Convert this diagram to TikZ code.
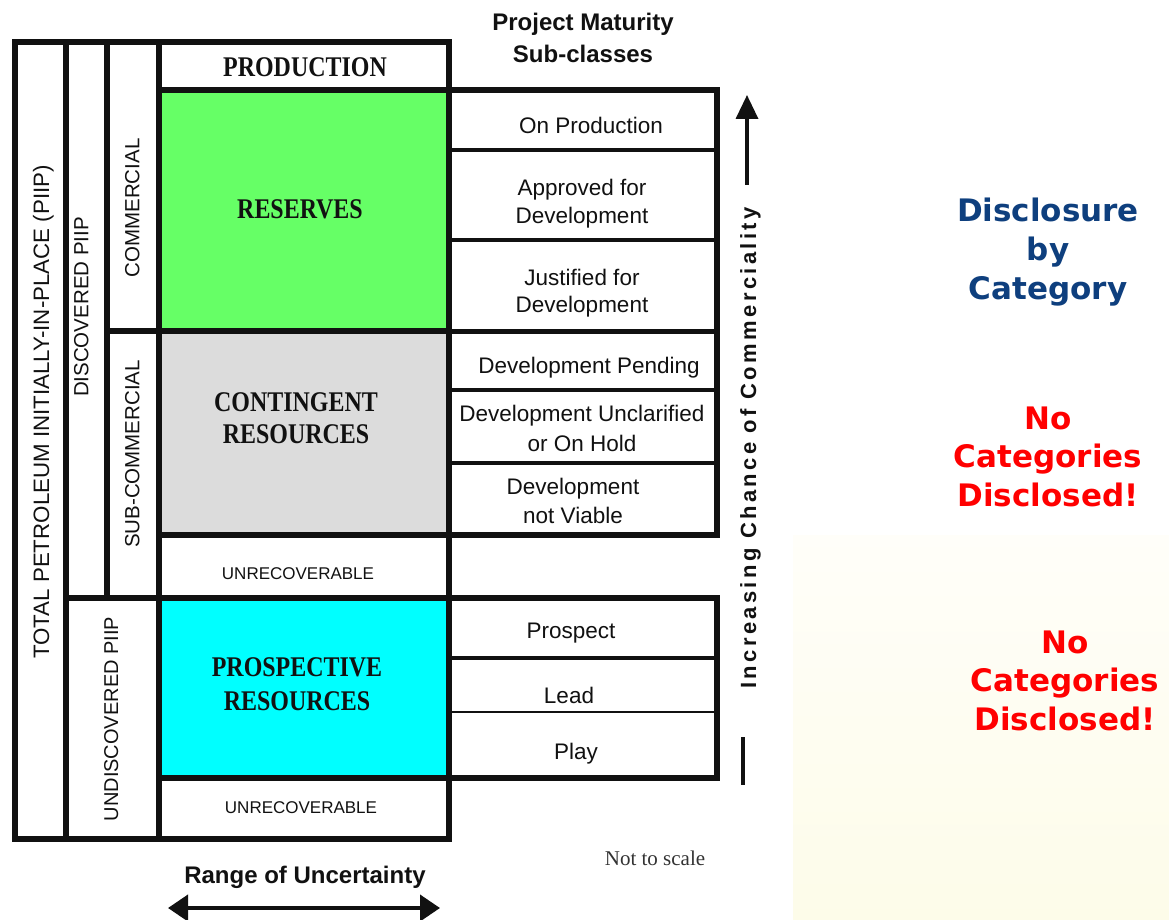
\documentclass[tikz,border=0pt]{standalone}
\usepackage{fontspec}
\setmainfont{Liberation Sans}
\newfontfamily\cserif[FakeStretch=0.84]{Liberation Serif}
\newfontfamily\tserif{Liberation Serif}
\newfontfamily\verd{DejaVu Sans}
\newfontfamily\spacedsans[LetterSpace=15.3]{Liberation Sans}
\usetikzlibrary{arrows.meta}
\definecolor{resgreen}{HTML}{66FF66}
\definecolor{congray}{HTML}{DCDCDC}
\definecolor{procyan}{HTML}{00FFFF}
\definecolor{discblue}{HTML}{0E3F7E}
\definecolor{panelmid}{HTML}{FFFEF9}
\definecolor{panelbot}{HTML}{FDFCE9}
\definecolor{ink}{HTML}{111111}
\newcommand\fsz[2]{\fontsize{#1}{#2}\selectfont}
\begin{document}
\begin{tikzpicture}[x=1pt,y=-1pt,
  thickline/.style={line width=6pt,draw=ink},
  midline/.style={line width=4pt,draw=ink},
  thinline/.style={line width=2.5pt,draw=ink},
  base/.style={inner sep=0pt,anchor=base,align=center,text=ink},
  serifbig/.style={base,font=\cserif\bfseries\fsz{28.5}{32}},
  cell/.style={base,font=\fsz{22.5}{29}},
  vlabel/.style={base,font=\fsz{20.5}{24},rotate=90},
  unrec/.style={base,font=\fsz{17}{20}},
  headtxt/.style={base,font=\bfseries\fsz{24}{32}},
  bluetxt/.style={base,font=\verd\bfseries\fsz{31}{39},text=discblue},
  redtxt/.style={base,font=\verd\bfseries\fsz{31}{38.5},text=red},
  bigarrow/.style={line width=3.5pt,draw=ink,-{Triangle[width=22pt,length=24pt]}},
  dblarrow/.style={line width=4pt,draw=ink,{Triangle[width=26pt,length=20pt]}-{Triangle[width=26pt,length=20pt]}}
]
\useasboundingbox (0,0) rectangle (1169,920);
\fill[white] (0,0) rectangle (1169,920);
% right background panel
\shade[top color=panelmid,bottom color=panelbot] (793,535) rectangle (1169,920);

% fills
\fill[resgreen] (158.5,90.5) rectangle (449,331);
\fill[congray] (158.5,331) rectangle (449,535);
\fill[procyan] (158.5,598) rectangle (449,777.5);

% grid
\draw[thickline] (15,42) rectangle (449,838.5);
\draw[thickline] (66,42) -- (66,838.5);
\draw[thickline] (106.5,42) -- (106.5,598);
\draw[thickline] (158.5,42) -- (158.5,838.5);
\draw[thickline] (158.5,90.5) -- (449,90.5);
\draw[thickline] (106.5,331) -- (449,331);
\draw[thickline] (158.5,535) -- (449,535);
\draw[thickline] (66,598) -- (449,598);
\draw[thickline] (158.5,777.5) -- (449,777.5);

\draw[thickline] (449,90.5) rectangle (716.5,535);
\draw[midline] (449,150) -- (716.5,150);
\draw[midline] (449,240) -- (716.5,240);
\draw[line width=5pt,draw=ink] (449,331) -- (716.5,331);
\draw[midline] (449,390) -- (716.5,390);
\draw[midline] (449,463) -- (716.5,463);
\draw[thickline] (449,598) rectangle (716.5,777.5);
\draw[midline] (449,658) -- (716.5,658);
\draw[thinline] (449,712) -- (716.5,712);

% main labels (placed by baseline of last line)
\node[serifbig] (production) at (305,76.4) {PRODUCTION};
\node[serifbig] (reserves) at (300,218.4) {RESERVES};
\node[serifbig] (contingent) at (296,443.4) {CONTINGENT\\RESOURCES};
\node[serifbig,font=\cserif\bfseries\fsz{28.5}{34}] (prospective) at (297,710.4) {PROSPECTIVE\\RESOURCES};
\node[unrec] (unrecA) at (298,579) {UNRECOVERABLE};
\node[unrec] (unrecB) at (301,813) {UNRECOVERABLE};

% vertical labels
\node[vlabel,font=\fsz{22.3}{26}] (total) at (49,412) {TOTAL PETROLEUM INITIALLY-IN-PLACE (PIIP)};
\node[vlabel] (disc) at (88.3,307) {DISCOVERED PIIP};
\node[vlabel] (comm) at (139.3,208) {COMMERCIAL};
\node[vlabel] (subcomm) at (139.3,454) {SUB-COMMERCIAL};
\node[vlabel,font=\fsz{20}{24}] (undisc) at (118.2,719) {UNDISCOVERED PIIP};

% sub-classes
\node[headtxt] (title) at (583,62.6) {Project Maturity\\Sub-classes};
\node[cell] (onprod) at (591,134) {On Production};
\node[cell,font=\fsz{22.5}{28}] (approved) at (582,223) {Approved for\\Development};
\node[cell,font=\fsz{22.5}{27}] (justified) at (582,312) {Justified for\\Development};
\node[cell] (pending) at (589,373) {Development Pending};
\node[cell,font=\fsz{22.5}{30}] (unclar) at (582,451) {Development Unclarified\\or On Hold};
\node[cell] (notviable) at (573,523) {Development\\not Viable};
\node[cell] (prospect) at (571,638) {Prospect};
\node[cell] (lead) at (569,703) {Lead};
\node[cell] (play) at (576,759) {Play};

% commerciality arrow
\coordinate (upA) at (747,185);
\coordinate (upB) at (747,95);
\draw[bigarrow] (upA) -- (upB);
\node[base,font=\spacedsans\bfseries\fsz{22}{26},rotate=90] (chance) at (756,448) {Increasing Chance of Commerciality};
\coordinate (lowA) at (743,737);
\coordinate (lowB) at (743,785);
\draw[line width=3.5pt,draw=ink] (lowA) -- (lowB);

% range of uncertainty
\node[headtxt] (range) at (305,883.6) {Range of Uncertainty};
\coordinate (rgL) at (168,908);
\coordinate (rgR) at (440,908);
\draw[dblarrow] (rgL) -- (rgR);
\node[base,font=\tserif\fsz{21}{24},text=black!80] (scale) at (655,865) {Not to scale};

% disclosure texts
\node[bluetxt] (disclosure) at (1048,299.3) {Disclosure\\by\\Category};
\node[redtxt] (noA) at (1048,506.3) {No\\Categories\\Disclosed!};
\node[redtxt] (noB) at (1065,730.3) {No\\Categories\\Disclosed!};
\end{tikzpicture}
\end{document}
